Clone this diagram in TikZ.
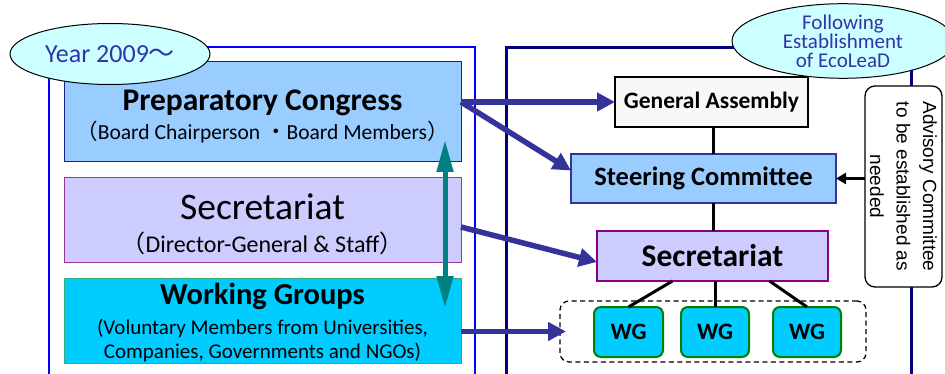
\documentclass[tikz,border=0pt]{standalone}
\usepackage{fontspec}
\setmainfont{Carlito}
\newfontfamily\cjk{Noto Sans CJK JP}
\newfontfamily\arialf{Liberation Sans}
\usetikzlibrary{arrows.meta,shapes.geometric,calc}
\definecolor{leftframe}{HTML}{0000FF}
\definecolor{rightframe}{HTML}{000080}
\definecolor{ellF}{HTML}{CCFFFF}
\definecolor{ellT}{HTML}{3333AA}
\definecolor{prepF}{HTML}{99CCFF}
\definecolor{prepB}{HTML}{1F1F99}
\definecolor{secF}{HTML}{CCCCFF}
\definecolor{secB}{HTML}{993399}
\definecolor{secB2}{HTML}{880088}
\definecolor{wgF}{HTML}{00CCFF}
\definecolor{wgB}{HTML}{33AA77}
\definecolor{wgB2}{HTML}{008000}
\definecolor{gaF}{HTML}{F8F8F8}
\definecolor{scB}{HTML}{333399}
\definecolor{arrB}{HTML}{333399}
\definecolor{tealc}{HTML}{008080}
\begin{document}
\begin{tikzpicture}[x=1pt,y=-1pt,
  box/.style={draw, rectangle, inner sep=0pt, outer sep=0pt},
  oval/.style={draw=black, fill=ellF, ellipse, inner sep=0pt, line width=1pt, text=ellT},
  barrow/.style={draw=arrB, line width=5.5pt, -{Triangle[length=18pt,width=18pt]}},
  tarrow/.style={draw=tealc, line width=5pt, {Triangle[length=32pt,width=16pt]}-{Triangle[length=32pt,width=16pt]}},
  link/.style={draw=black, line width=3pt},
  wgbox/.style={box, draw=wgB2, fill=wgF, line width=2pt, rounded corners=7pt, minimum width=68pt, minimum height=50pt, font=\fontsize{23.5}{26}\selectfont\bfseries},
  txt/.style={inner sep=0pt, anchor=base}
]
\useasboundingbox (0,0) rectangle (945,374);

% frames
\draw[leftframe, line width=1.8pt] (49,400) -- (49,47) -- (475,47) -- (475,400);
\draw[rightframe, line width=3pt] (506,400) -- (506,48) -- (911,48) -- (911,400);

% left boxes
\node[box, draw=prepB, fill=prepF, line width=1pt, minimum width=397pt, minimum height=100pt] (prep) at (262.5,112) {};
\node[box, draw=secB, fill=secF, line width=1pt, minimum width=397pt, minimum height=84pt] (secl) at (262.5,220) {};
\node[box, draw=wgB, fill=wgF, line width=1pt, minimum width=397pt, minimum height=85pt] (wgl) at (262.5,320.5) {};

\node[txt, font=\fontsize{31.5}{36}\selectfont\bfseries] (preptitle) at (262.5,111) {Preparatory Congress};
\node[txt, font=\fontsize{21.5}{25}\selectfont] (prepsub) at (262.5,140) {{\cjk （}Board Chairperson {\cjk ・}Board Members{\cjk ）}};
\node[txt, font=\fontsize{37.5}{42}\selectfont] (secltitle) at (262.5,219) {Secretariat};
\node[txt, font=\fontsize{24}{27}\selectfont] (seclsub) at (262.5,252) {{\cjk （}Director-General \& Staff{\cjk ）}};
\node[txt, font=\fontsize{30.5}{35}\selectfont\bfseries] (wgltitle) at (262.5,304) {Working Groups};
\node[txt, font=\fontsize{21}{25}\selectfont] (wglsub1) at (262.5,334) {(Voluntary Members from Universities,};
\node[txt, font=\fontsize{21}{25}\selectfont] (wglsub2) at (262.5,358) {Companies, Governments and NGOs)};

% right boxes
\node[box, draw=black, fill=gaF, line width=2pt, minimum width=193pt, minimum height=50pt, font=\fontsize{23.5}{27}\selectfont\bfseries] (ga) at (711.5,102) {General Assembly};
\node[box, draw=scB, fill=prepF, line width=2pt, minimum width=265pt, minimum height=49pt, font=\fontsize{26.5}{30}\selectfont\bfseries] (sc) at (703.5,178.5) {Steering Committee};
\node[box, draw=secB2, fill=secF, line width=2pt, minimum width=231pt, minimum height=50pt, font=\fontsize{31.5}{36}\selectfont\bfseries] (secr) at (712.5,256) {Secretariat};
\node[box, draw=black, dashed, dash pattern=on 5pt off 3.5pt, line width=1.3pt, rounded corners=9pt, minimum width=306pt, minimum height=61pt] (dbox) at (713,331.5) {};
\node[wgbox, minimum width=69pt] (wg1) at (628.5,332) {WG};
\node[wgbox] (wg2) at (715,332) {WG};
\node[wgbox] (wg3) at (807,332) {WG};

% links
\draw[link] (ga.south -| 713,0) -- (sc.north -| 713,0);
\draw[link] (sc.south -| 713,0) -- (secr.north -| 713,0);
\draw[link] ([xshift=-40pt]secr.south) -- (wg1.north);
\draw[link] (wg2.north |- secr.south) -- (wg2.north);
\draw[link] ([xshift=57pt]secr.south) -- (wg3.north);

% advisory
\node[box, draw=black, fill=white, line width=1.3pt, rounded corners=10pt, rotate=-90, minimum width=201pt, minimum height=77pt, align=center, font=\arialf\fontsize{19}{26.5}\selectfont] (adv) at (903.5,186.5) {Advisory Committee\\to be established as\\needed};
\draw[line width=2.5pt, -{Triangle[length=10pt,width=11pt]}] (adv.south |- sc.east) -- (sc.east);

% ellipses
\node[oval, minimum width=200pt, minimum height=61pt, font=\fontsize{26}{30}\selectfont] (yr) at (110,54) {Year 2009{\cjk ～}};
\node[oval, minimum width=222pt, minimum height=74pt, align=center, text=ellT, font=\fontsize{21}{19}\selectfont] (est) at (843,41) {Following\\Establishment\\of EcoLeaD};

% arrows
\coordinate (pstart) at ($(prep.east)+(0,-10)$);
\draw[barrow] (pstart) -- (ga.west);
\draw[barrow] (pstart) -- ($(sc.west)+(0,-8)$);
\draw[barrow] ($(secl.east)+(0,7)$) -- ($(secr.west)+(0,6)$);
\draw[barrow] (wgl.east |- dbox.west) -- ([xshift=6pt]dbox.west);
\coordinate (ttop) at (445,140);
\coordinate (tbot) at (445,308);
\draw[tarrow] (ttop) -- (tbot);
\end{tikzpicture}
\end{document}
